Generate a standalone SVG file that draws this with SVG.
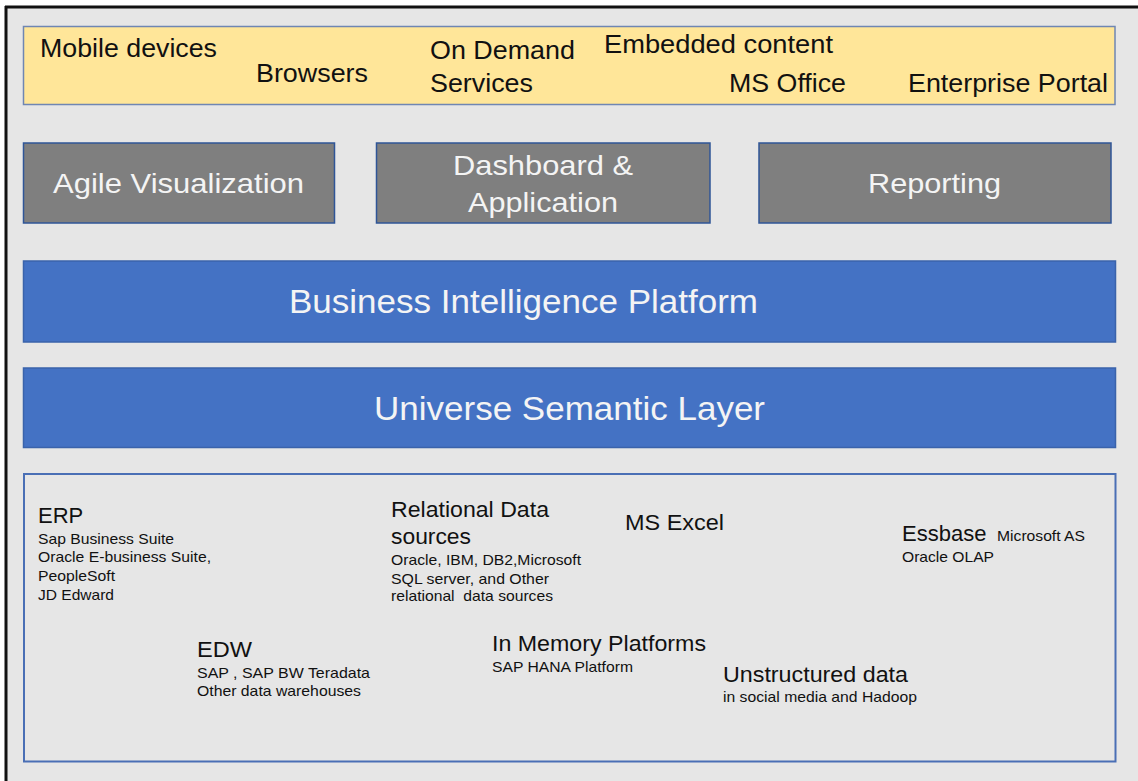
<svg xmlns="http://www.w3.org/2000/svg" width="1138" height="781" viewBox="0 0 1138 781">
<style>
text{font-family:"Liberation Sans",Arial,sans-serif}
.dk{fill:#111}
.wt{fill:#f4f4f4}
.t25{font-size:25px}
.t28{font-size:28px}
.t33{font-size:33px}
.h22{font-size:22px}
.s15{font-size:15px}
.gbox{fill:#7f7f7f;stroke:#2f5597;stroke-width:1.5}
.bbox{fill:#4472c4;stroke:#3a63ab;stroke-width:1.5}
</style>
<rect x="0" y="0" width="1138" height="781" fill="#ffffff"/>
<rect x="6" y="7" width="1132" height="774" fill="#e6e6e6"/>
<line x1="5" y1="7" x2="1138" y2="7" stroke="#111" stroke-width="3"/>
<line x1="6" y1="6" x2="6" y2="781" stroke="#111" stroke-width="3"/>

<g id="clients">
<rect x="23.5" y="26.5" width="1091.5" height="78" fill="#ffe699" stroke="#6f86b3" stroke-width="1.5"/>
<text class="dk t25" x="40" y="57" textLength="177" lengthAdjust="spacingAndGlyphs">Mobile devices</text>
<text class="dk t25" x="256" y="82" textLength="112" lengthAdjust="spacingAndGlyphs">Browsers</text>
<text class="dk t25" x="430" y="59" textLength="145" lengthAdjust="spacingAndGlyphs">On Demand</text>
<text class="dk t25" x="430" y="92" textLength="103" lengthAdjust="spacingAndGlyphs">Services</text>
<text class="dk t25" x="604" y="52.5" textLength="229" lengthAdjust="spacingAndGlyphs">Embedded content</text>
<text class="dk t25" x="729" y="91.5" textLength="117" lengthAdjust="spacingAndGlyphs">MS Office</text>
<text class="dk t25" x="908" y="92" textLength="200" lengthAdjust="spacingAndGlyphs">Enterprise Portal</text>
</g>

<g id="agile-visualization">
<rect class="gbox" x="23.5" y="143" width="311" height="80"/>
<text class="wt t28" x="53" y="193" textLength="251" lengthAdjust="spacingAndGlyphs">Agile Visualization</text>
</g>
<g id="dashboard-application">
<rect class="gbox" x="376.5" y="143" width="333.5" height="80"/>
<text class="wt t28" x="453" y="175" textLength="180" lengthAdjust="spacingAndGlyphs">Dashboard &amp;</text>
<text class="wt t28" x="468" y="212" textLength="150" lengthAdjust="spacingAndGlyphs">Application</text>
</g>
<g id="reporting">
<rect class="gbox" x="759" y="143" width="352" height="80"/>
<text class="wt t28" x="868" y="193" textLength="133" lengthAdjust="spacingAndGlyphs">Reporting</text>
</g>

<g id="bi-platform">
<rect class="bbox" x="23.5" y="261" width="1092" height="81"/>
<text class="wt t33" x="289" y="313" textLength="469" lengthAdjust="spacingAndGlyphs">Business Intelligence Platform</text>
</g>
<g id="universe-semantic-layer">
<rect class="bbox" x="23.5" y="368" width="1092" height="79.5"/>
<text class="wt t33" x="374" y="420" textLength="391" lengthAdjust="spacingAndGlyphs">Universe Semantic Layer</text>
</g>

<g id="data-sources">
<rect x="24" y="474" width="1091.5" height="287.5" fill="none" stroke="#4a6fb5" stroke-width="2"/>
<g id="erp">
<text class="dk h22" x="38" y="523">ERP</text>
<text class="dk s15" x="38" y="544" textLength="136" lengthAdjust="spacingAndGlyphs">Sap Business Suite</text>
<text class="dk s15" x="38" y="562" textLength="173" lengthAdjust="spacingAndGlyphs">Oracle E-business Suite,</text>
<text class="dk s15" x="38" y="581" textLength="77" lengthAdjust="spacingAndGlyphs">PeopleSoft</text>
<text class="dk s15" x="38" y="600" textLength="76" lengthAdjust="spacingAndGlyphs">JD Edward</text>
</g>
<g id="relational">
<text class="dk h22" x="391" y="516.5" textLength="158" lengthAdjust="spacingAndGlyphs">Relational Data</text>
<text class="dk h22" x="391" y="544" textLength="80" lengthAdjust="spacingAndGlyphs">sources</text>
<text class="dk s15" x="391" y="565" textLength="190" lengthAdjust="spacingAndGlyphs">Oracle, IBM, DB2,Microsoft</text>
<text class="dk s15" x="391" y="583.5" textLength="158" lengthAdjust="spacingAndGlyphs">SQL server, and Other</text>
<text class="dk s15" x="391" y="601" textLength="162" lengthAdjust="spacingAndGlyphs">relational &#160;data sources</text>
</g>
<g id="ms-excel">
<text class="dk h22" x="625" y="530" textLength="99" lengthAdjust="spacingAndGlyphs">MS Excel</text>
</g>
<g id="essbase">
<text x="902" y="541"><tspan class="dk h22">Essbase</tspan><tspan class="dk s15" x="997" textLength="88" lengthAdjust="spacingAndGlyphs">Microsoft AS</tspan></text>
<text class="dk s15" x="902" y="561.5" textLength="92" lengthAdjust="spacingAndGlyphs">Oracle OLAP</text>
</g>
<g id="edw">
<text class="dk h22" x="197" y="657" textLength="55" lengthAdjust="spacingAndGlyphs">EDW</text>
<text class="dk s15" x="197" y="678" textLength="173" lengthAdjust="spacingAndGlyphs">SAP , SAP BW Teradata</text>
<text class="dk s15" x="197" y="695.5" textLength="164" lengthAdjust="spacingAndGlyphs">Other data warehouses</text>
</g>
<g id="in-memory">
<text class="dk h22" x="492" y="651" textLength="214" lengthAdjust="spacingAndGlyphs">In Memory Platforms</text>
<text class="dk s15" x="492" y="671.5" textLength="141" lengthAdjust="spacingAndGlyphs">SAP HANA Platform</text>
</g>
<g id="unstructured">
<text class="dk h22" x="723" y="681.5" textLength="185" lengthAdjust="spacingAndGlyphs">Unstructured data</text>
<text class="dk s15" x="723" y="702" textLength="194" lengthAdjust="spacingAndGlyphs">in social media and Hadoop</text>
</g>
</g>
<g id="connectors"/>
</svg>
